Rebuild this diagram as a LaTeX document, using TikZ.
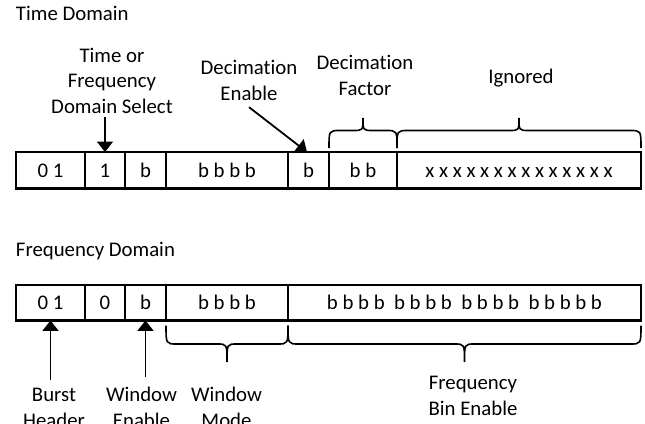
\documentclass[tikz,border=0pt]{standalone}
\usepackage{fontspec}
\setmainfont[Ligatures={NoCommon}]{Carlito}
\usetikzlibrary{arrows.meta,calc}

\tikzset{
  lbl/.style={font=\fontsize{20.8}{25.5}\selectfont, inner sep=0pt, outer sep=0pt, align=center},
  cell/.style={draw, line width=2.2pt, minimum height=36.5pt, inner sep=0pt, outer sep=0pt,
               text height=13.5pt, text depth=0pt, font=\fontsize{20.8}{25}\selectfont},
  arr/.style={line width=1.8pt, -{Triangle[width=16pt,length=10.5pt]}},
  brc/.style={line width=1.6pt},
}

% curly brace: ends at (x1,yend),(x2,yend), straight part at ymid, tip at ytip
\newcommand\fieldbrace[5]{%
  \pgfmathsetmacro\bmid{(#1+#2)/2}%
  \draw[brc] (#1,#3) .. controls (#1,#4) .. (#1+11,#4) -- (\bmid-10,#4)
     .. controls (\bmid,#4) .. (\bmid,#5)
     .. controls (\bmid,#4) .. (\bmid+10,#4) -- (#2-11,#4)
     .. controls (#2,#4) .. (#2,#3);}

\begin{document}
\begin{tikzpicture}[x=1pt,y=-1pt]
\clip (0,0) rectangle (645,423);

% ---------- time domain word ----------
\node[lbl, anchor=base west] (ttitle) at (16,20.5) {Time Domain};

\node[cell, minimum width=69pt]  (c1) at (50.5,170.3) {0 1};
\node[cell, minimum width=40pt]  (c2) at (105,170.3)  {1};
\node[cell, minimum width=41pt]  (c3) at (145.5,170.3){b};
\node[cell, minimum width=122pt] (c4) at (227,170.3)  {b b b b};
\node[cell, minimum width=41pt]  (c5) at (308.5,170.3){b};
\node[cell, minimum width=68pt]  (c6) at (363,170.3)  {b b};
\node[cell, minimum width=244pt] (c7) at (519,170.3)  {x x x x x x x x x x x x x x};

% labels: the base anchor sits on the last line
\node[lbl, anchor=base] (tfs)    at (112,113) {Time or\\Frequency\\Domain Select};
\node[lbl, anchor=base] (decen)  at (249,100) {Decimation\\Enable};
\node[lbl, anchor=base] (decfac) at (365,95)  {Decimation\\Factor};
\node[lbl, anchor=base] (ign)    at (521,83)  {Ignored};

\draw[arr] ($(c2.north |- tfs.south)+(0,4)$) -- (c2.north);
\draw[arr] ($(decen.south)+(0,7)$) -- ($(c5.north)+(-1.5,0)$);

\fieldbrace{329}{397}{148}{130.5}{118}
\fieldbrace{397}{641}{148}{130.5}{118}

% ---------- frequency domain word ----------
\node[lbl, anchor=base west] (ftitle) at (16,256.7) {Frequency Domain};

\node[cell, minimum width=69pt, minimum height=35.5pt]  (f1) at (50.5,302.7) {0 1};
\node[cell, minimum width=40pt, minimum height=35.5pt]  (f2) at (105,302.7)  {0};
\node[cell, minimum width=41pt, minimum height=35.5pt]  (f3) at (145.5,302.7){b};
\node[cell, minimum width=122pt, minimum height=35.5pt] (f4) at (227,302.7)  {b b b b};
\node[cell, minimum width=353pt, minimum height=35.5pt] (f5) at (464.5,302.7)
  {b b b b\ \ b b b b\ \ b b b b\ \ b b b b b};

\node[lbl, anchor=base] (burst)   at (54,427)    {Burst\\Header};
\node[lbl, anchor=base] (winen)   at (141.5,427) {Window\\Enable};
\node[lbl, anchor=base] (winmode) at (226.5,427) {Window\\Mode};
\node[lbl, anchor=base] (fbe)     at (473,415)   {Frequency\\Bin Enable};

\draw[arr] ($(f1.south |- burst.north)+(0,-8)$) -- (f1.south);
\draw[arr] ($(f3.south |- winen.north)+(0,-10)$) -- (f3.south);

\fieldbrace{166}{288}{325.5}{344}{362}
\fieldbrace{288}{641}{325.5}{344}{362}
\end{tikzpicture}
\end{document}
